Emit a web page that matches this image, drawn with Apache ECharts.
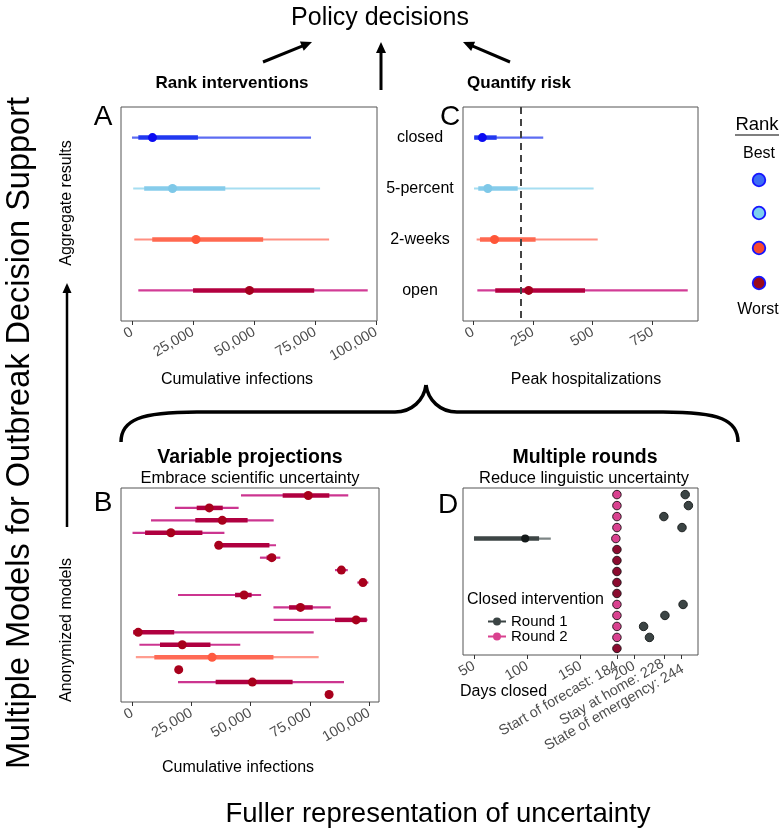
<!DOCTYPE html>
<html><head><meta charset="utf-8">
<script src="https://cdn.jsdelivr.net/npm/echarts@6/dist/echarts.min.js"></script>
<style>html,body{margin:0;padding:0;background:#fff}#c{width:780px;height:837px}</style>
</head><body><div id="c"></div>
<script>
// ---------------- DATA ----------------
const interventions = ['closed', '5-percent', '2-weeks', 'open'];
// Panel A: cumulative infections (ensemble)
const infLo90 = [0, 500, 950, 2600];
const infLo50 = [2600, 5000, 8300, 25000];
const infMed  = [8400, 16600, 26200, 48100];
const infHi50 = [27000, 38200, 53700, 74600];
const infHi90 = [73300, 77000, 80700, 96500];
const infTicks = [0, 25000, 50000, 75000, 100000];
// Panel C: peak hospitalizations (ensemble)
const hospLo90 = [4, 3, 14, 17];
const hospLo50 = [4, 21, 28, 92];
const hospMed  = [38, 61, 89, 232];
const hospHi50 = [98, 186, 261, 468];
const hospHi90 = [293, 504, 521, 898];
const hospTicks = [0, 250, 500, 750];
const hospCapacity = 200;
// Panel B: anonymized models, cumulative infections (open intervention)
const models = ['M1','M2','M3','M4','M5','M6','M7','M8','M9','M10','M11','M12','M13','M14','M15','M16','M17'];
const modelType = ['model','model','model','model','model','model','model','model','model','model','model','model','model','ensemble','model','model','model'];
const modLo90 = [45900, 18000, 7900, 100, 36300, 53900, 85600, 95000, 19300, 59600, 59700, 400, 3000, 1500, 19600, 19300, 83100];
const modLo50 = [63500, 27200, 26600, 5400, 36300, 56700, 86800, 96400, 43400, 66200, 85600, 400, 11700, 9300, 19600, 35200, 83100];
const modMed  = [74300, 32500, 38000, 16300, 36500, 58900, 88300, 97400, 47200, 71000, 94500, 2500, 21100, 33700, 19600, 50700, 83100];
const modHi50 = [83200, 38200, 48700, 29600, 57900, 60700, 89800, 98500, 50400, 76200, 99000, 17700, 33000, 59600, 19600, 67700, 83100];
const modHi90 = [91200, 44900, 59700, 38900, 60700, 62500, 91000, 99700, 54400, 83800, 99300, 76600, 45600, 78700, 19600, 89400, 83100];
// Panel D: days closed, rounds 1 and 2
const dModels = ['m1','m2','m3','m4','m5','m6','m7','m8','m9','m10','m11','m12','m13','m14','m15'];
const round1Days = [248, 251, 228, 245, null, null, null, null, null, null, 246, 229, 209, 214.5, null];
const round1IntervalRow = [5];
const round1Lo90 = [50];
const round1Lo50 = [50];
const round1Med  = [98];
const round1Hi50 = [111];
const round1Hi90 = [122];
const round2Days = [184, 184, 184, 184, 183, 184, 184, 184, 184, 184, 184, 184, 184, 184, 184];
const round2Group = ['a','a','a','a','a','b','b','b','b','b','a','a','a','a','b'];
const dayTicks = [50, 100, 150, 184, 200, 228, 244];
const dayTickLabels = ['50', '100', '150', 'Start of forecast: 184', '200', 'Stay at home: 228', 'State of emergency: 244'];

// ---------------- STYLES ----------------
const FONT = 'Liberation Sans';
const rankThin  = ['#5d6cf2', '#a6def1', '#ff8f82', '#d23c96'];
const rankThick = ['#2138f0', '#86cceb', '#ff6950', '#b3003f'];
const rankPoint = ['#0b0bf2', '#7ec8e8', '#ff5638', '#a4001e'];
const rankLegendFill = ['#3c6cf5', '#7dd0ee', '#f8492f', '#9a0a1a'];
const modThin = {model: '#cc3590', ensemble: '#ff9d90'};
const modThick = {model: '#b00040', ensemble: '#ff6a55'};
const modPoint = {model: '#a8001c', ensemble: '#ff5a40'};
const r2Fill = {a: '#d9418f', b: '#8b0b2f'};
const dayLabelNudge = {228: 'up', 244: 'down'};   // label-only nudge so the two rotated labels do not collide

// ---------------- HELPERS ----------------
function segSeries(xi, lo, hi, rows, colorFn, width, z) {
  const data = lo.map((v, i) => [v, hi[i], rows ? rows[i] : i + 1]);
  return {
    type: 'custom', xAxisIndex: xi, yAxisIndex: xi, coordinateSystem: 'cartesian2d', silent: true, z: z,
    encode: {x: [0, 1], y: 2}, data: data,
    renderItem: function (params, api) {
      const a = api.coord([api.value(0), api.value(2)]);
      const b = api.coord([api.value(1), api.value(2)]);
      return {type: 'line', shape: {x1: a[0], y1: a[1], x2: b[0], y2: b[1]},
        style: {stroke: colorFn(params.dataIndex), lineWidth: width, opacity: 1}};
    }
  };
}
function pointSeries(xi, xs, rows, colorFn, size, extra) {
  const data = [];
  xs.forEach((v, i) => { if (v !== null) data.push({value: [v, rows ? rows[i] : i + 1], itemStyle: {color: colorFn(i), opacity: 1}}); });
  return Object.assign({type: 'scatter', xAxisIndex: xi, yAxisIndex: xi, symbolSize: size, z: 5, silent: true,
    itemStyle: {opacity: 1}, data: data}, extra || {});
}
const labelRich = {
  up: {padding: [0, 0, 5, 0], fontSize: 14.5, color: '#4d4d4d', fontFamily: FONT},
  down: {padding: [7, 0, 0, 0], fontSize: 14.5, color: '#4d4d4d', fontFamily: FONT}
};
function xAxisCfg(gi, min, max, ticks, fmt, name, gap, pad, labelValues) {
  return {
    gridIndex: gi, type: 'value', min: min, max: max, splitLine: {show: false},
    axisLine: {show: false},
    axisTick: {show: true, customValues: ticks, length: 4, lineStyle: {color: '#333', width: 1}},
    axisLabel: {customValues: labelValues || ticks, formatter: fmt, rotate: 30, color: '#4d4d4d', fontSize: 14.5, fontFamily: FONT,
      margin: 10, hideOverlap: false, interval: 0, rich: labelRich},
    name: name, nameLocation: 'middle', nameGap: gap, nameMoveOverlap: false,
    nameTextStyle: {fontSize: 16, color: '#000', fontFamily: FONT, padding: pad}
  };
}
function yAxisCfg(gi, n, label) {
  const cfg = {gridIndex: gi, type: 'value', min: 0.4, max: n + 0.6, inverse: true, splitLine: {show: false},
    axisLine: {show: false}, axisTick: {show: false}, axisLabel: {show: false}};
  if (label) cfg.axisLabel = label;
  return cfg;
}
function txt(x, y, text, size, o) {
  o = o || {};
  return {type: 'text', x: x, y: y, rotation: o.rot || 0, silent: true,
    style: {text: text, fontSize: size, fontFamily: FONT, fontWeight: o.bold ? 'bold' : 'normal',
      fill: o.color || '#000', align: o.align || 'center', verticalAlign: 'middle'}};
}
function arrow(x1, y1, x2, y2, w, hl, hw) {
  const dx = x2 - x1, dy = y2 - y1, L = Math.hypot(dx, dy), ux = dx / L, uy = dy / L, nx = -uy, ny = ux;
  const bx = x2 - ux * hl, by = y2 - uy * hl;
  return [
    {type: 'line', silent: true, shape: {x1: x1, y1: y1, x2: bx + ux, y2: by + uy}, style: {stroke: '#000', lineWidth: w}},
    {type: 'polygon', silent: true, shape: {points: [[x2, y2], [bx + nx * hw, by + ny * hw], [bx - nx * hw, by - ny * hw]]}, style: {fill: '#000'}}
  ];
}
function bez(x1, y1, c1x, c1y, c2x, c2y, x2, y2) {
  return {type: 'bezierCurve', silent: true, shape: {x1: x1, y1: y1, cpx1: c1x, cpy1: c1y, cpx2: c2x, cpy2: c2y, x2: x2, y2: y2},
    style: {stroke: '#000', lineWidth: 3.5, fill: null}};
}
function hline(x1, x2, y) {
  return {type: 'line', silent: true, shape: {x1: x1, y1: y, x2: x2, y2: y}, style: {stroke: '#000', lineWidth: 3.5}};
}
const fmtComma = v => Math.round(v).toLocaleString('en-US');
const fmtDay = v => {
  const i = dayTicks.findIndex(t => Math.abs(t - v) < 0.01);
  if (i < 0) return '';
  const n = dayLabelNudge[dayTicks[i]];
  return n ? '{' + n + '|' + dayTickLabels[i] + '}' : dayTickLabels[i];
};

// ---------------- GRAPHICS (annotations) ----------------
const G = [];
G.push(txt(380, 18, 'Policy decisions', 25));
G.push(...arrow(263, 62, 312, 42, 3, 11, 5));
G.push(...arrow(381, 90, 381, 42, 3, 11, 5));
G.push(...arrow(510, 62, 463, 42, 3, 11, 5));
G.push(txt(232, 83, 'Rank interventions', 17, {bold: true}));
G.push(txt(519, 83, 'Quantify risk', 17, {bold: true}));
G.push(txt(103, 117, 'A', 28));
G.push(txt(450, 117, 'C', 28));
G.push(txt(103, 503, 'B', 28));
G.push(txt(448, 505, 'D', 28));
G.push(txt(20, 433, 'Multiple Models for Outbreak Decision Support', 32.5, {rot: Math.PI / 2}));
G.push(txt(67, 203, 'Aggregate results', 16, {rot: Math.PI / 2}));
G.push(txt(67, 630, 'Anonymized models', 16, {rot: Math.PI / 2}));
G.push(...arrow(67, 527, 67, 283, 2.5, 10, 4.5));
// brace
G.push(bez(121, 442, 121, 420, 140, 412, 197, 412));
G.push(hline(197, 395, 412));
G.push(bez(395, 412, 412, 412, 424, 400, 426, 385));
G.push(bez(426, 385, 428, 400, 440, 412, 457, 412));
G.push(hline(457, 663, 412));
G.push(bez(663, 412, 720, 412, 738, 420, 738, 442));
G.push(txt(250, 458, 'Variable projections', 19.5, {bold: true}));
G.push(txt(250, 478, 'Embrace scientific uncertainty', 16.5));
G.push(txt(585, 458, 'Multiple rounds', 19.5, {bold: true}));
G.push(txt(584, 478, 'Reduce linguistic uncertainty', 16.5));
G.push(txt(438, 814, 'Fuller representation of uncertainty', 27.5));
// rank legend
G.push(txt(757, 125, 'Rank', 18.5));
G.push({type: 'line', silent: true, shape: {x1: 735, y1: 135, x2: 779, y2: 135}, style: {stroke: '#000', lineWidth: 1.2}});
G.push(txt(759, 154, 'Best', 16));
G.push(txt(758, 310, 'Worst', 16));
[180, 213, 248, 283].forEach((cy, i) => {
  G.push({type: 'circle', silent: true, shape: {cx: 759, cy: cy, r: 6.3}, style: {fill: rankLegendFill[i], stroke: '#1616ff', lineWidth: 1.8}});
});
G.push(txt(467, 600, 'Closed intervention', 16, {align: 'left'}));

// ---------------- OPTION ----------------
const legendIcon = 'path://M0,4L18,4L18,6L0,6Z M13,5A4,4 0 1,1 5,5A4,4 0 1,1 13,5Z';
const dayMin = 39.7, dayMax = 260;
const option = {
  animation: false,
  backgroundColor: '#fff',
  textStyle: {fontFamily: FONT},
  grid: [
    {left: 121, top: 107, width: 256, height: 214, show: true, borderColor: '#555', borderWidth: 1, containLabel: false, outerBoundsMode: 'none'},
    {left: 463, top: 107, width: 235, height: 214, show: true, borderColor: '#555', borderWidth: 1, containLabel: false, outerBoundsMode: 'none'},
    {left: 121, top: 488, width: 258, height: 214, show: true, borderColor: '#555', borderWidth: 1, containLabel: false, outerBoundsMode: 'none'},
    {left: 463, top: 488, width: 235, height: 167, show: true, borderColor: '#555', borderWidth: 1, containLabel: false, outerBoundsMode: 'none'}
  ],
  xAxis: [
    xAxisCfg(0, -4490, 100300, infTicks, fmtComma, 'Cumulative infections', 51, [0, 24, 0, 0]),
    xAxisCfg(1, -43, 941, hospTicks, fmtComma, 'Peak hospitalizations', 51, [0, 0, 0, 11]),
    xAxisCfg(2, -4770, 104180, infTicks, fmtComma, 'Cumulative infections', 58, [0, 24, 0, 0]),
    // empty labels at the axis ends keep the min/max overlap check from hiding a real label
    xAxisCfg(3, dayMin, dayMax, dayTicks, fmtDay, 'Days closed', 29, [0, 154, 0, 0], [dayMin].concat(dayTicks, [dayMax]))
  ],
  yAxis: [
    yAxisCfg(0, interventions.length),
    yAxisCfg(1, interventions.length, {show: true, customValues: [1, 2, 3, 4], formatter: v => interventions[Math.round(v) - 1],
      align: 'center', margin: 43, fontSize: 16, color: '#000', fontFamily: FONT, showMinLabel: true, showMaxLabel: true}),
    yAxisCfg(2, models.length),
    yAxisCfg(3, dModels.length)
  ],
  legend: {
    orient: 'vertical', left: 483, top: 609, itemGap: 0, itemWidth: 18, itemHeight: 10,
    textStyle: {fontSize: 15, color: '#000', fontFamily: FONT, lineHeight: 15}, selectedMode: false,
    data: [
      {name: 'Round 1', icon: legendIcon, itemStyle: {color: '#3b4444', borderWidth: 0, opacity: 1}},
      {name: 'Round 2', icon: legendIcon, itemStyle: {color: '#d9418f', borderWidth: 0, opacity: 1}}
    ]
  },
  series: [
    // A
    segSeries(0, infLo90, infHi90, null, i => rankThin[i], 2.2, 2),
    segSeries(0, infLo50, infHi50, null, i => rankThick[i], 4.5, 3),
    pointSeries(0, infMed, null, i => rankPoint[i], 9),
    // C
    segSeries(1, hospLo90, hospHi90, null, i => rankThin[i], 2.2, 2),
    segSeries(1, hospLo50, hospHi50, null, i => rankThick[i], 4.5, 3),
    pointSeries(1, hospMed, null, i => rankPoint[i], 9, {
      markLine: {silent: true, symbol: ['none', 'none'], label: {show: false},
        lineStyle: {type: [7, 5], color: '#444', width: 2, opacity: 1}, data: [{xAxis: hospCapacity}]}
    }),
    // B
    segSeries(2, modLo90, modHi90, null, i => modThin[modelType[i]], 2.2, 2),
    segSeries(2, modLo50, modHi50, null, i => modThick[modelType[i]], 4.5, 3),
    pointSeries(2, modMed, null, i => modPoint[modelType[i]], 9),
    // D
    segSeries(3, round1Lo90, round1Hi90, round1IntervalRow, i => '#7d8585', 2.2, 2),
    segSeries(3, round1Lo50, round1Hi50, round1IntervalRow, i => '#3d4545', 4.5, 3),
    pointSeries(3, round1Med, round1IntervalRow, i => '#151a1a', 8),
    Object.assign(pointSeries(3, round1Days, null, i => '#3b4444', 8.5), {name: 'Round 1', itemStyle: {color: '#3b4444', borderColor: '#1e2222', borderWidth: 1, opacity: 1}}),
    Object.assign(pointSeries(3, round2Days, null, i => r2Fill[round2Group[i]], 8.5), {name: 'Round 2', itemStyle: {color: '#d9418f', borderColor: '#2a1a20', borderWidth: 1, opacity: 1}})
  ],
  graphic: G
};
const chart = echarts.init(document.getElementById('c'));
chart.setOption(option);
</script>
</body></html>
